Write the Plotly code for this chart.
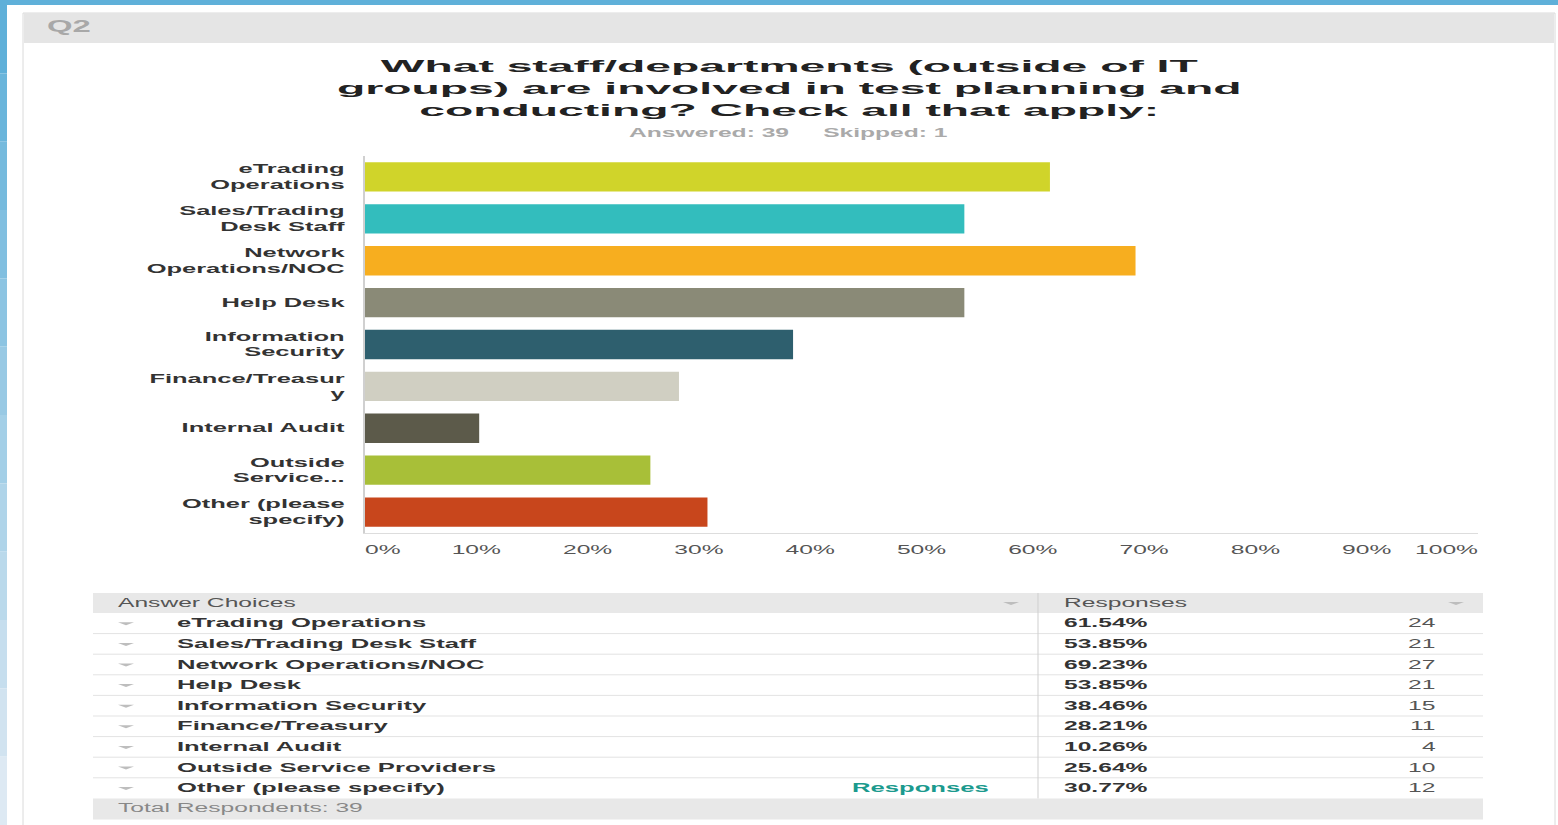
import plotly.graph_objects as go

# ---------------- data ----------------
categories = ["eTrading Operations", "Sales/Trading Desk Staff", "Network Operations/NOC",
              "Help Desk", "Information Security", "Finance/Treasury", "Internal Audit",
              "Outside Service Providers", "Other (please specify)"]
axis_labels = ["eTrading<br>Operations", "Sales/Trading<br>Desk Staff", "Network<br>Operations/NOC",
               "Help Desk", "Information<br>Security", "Finance/Treasur<br>y", "Internal Audit",
               "Outside<br>Service...", "Other (please<br>specify)"]
percents = [61.54, 53.85, 69.23, 53.85, 38.46, 28.21, 10.26, 25.64, 30.77]
counts = [24, 21, 27, 21, 15, 11, 4, 10, 12]
bar_colors = ["#d0d42a", "#33bdbd", "#f7ae1f", "#8a8a77", "#2e5f6e",
              "#d0cfc2", "#5c5a4a", "#a8bf38", "#c8461c"]
x_ticks = [0, 10, 20, 30, 40, 50, 60, 70, 80, 90, 100]
x_tick_labels = [f"{v}%" for v in x_ticks]
title_lines = ["What staff/departments (outside of IT",
               "groups) are involved in test planning and",
               "conducting? Check all that apply:"]
answered, skipped = 39, 1
total_respondents = 39

# ---------------- geometry helpers (pixel -> paper) ----------------
WIDTH, HEIGHT = 1558, 825
L, R, T, B = 365, 1478, 156, 533
PW, PH = R - L, B - T


def px(x):
    return (x - L) / PW


def py(y):
    return (B - y) / PH


FONT = "Liberation Sans, Arial, sans-serif"

fig = go.Figure()
fig.add_trace(go.Bar(
    x=percents, y=categories, orientation="h",
    marker=dict(color=bar_colors, line=dict(width=0)),
    hovertemplate="%{y}: %{x:.2f}%<extra></extra>",
))

shapes = []
annotations = []


def rect(x0, y0, x1, y1, fill, line=None, layer="below"):
    shapes.append(dict(type="rect", xref="paper", yref="paper",
                       x0=px(x0), x1=px(x1), y0=py(y0), y1=py(y1),
                       fillcolor=fill, layer=layer,
                       line=dict(width=1 if line else 0, color=line or fill)))


def hline(x0, x1, y, color, width=1):
    shapes.append(dict(type="line", xref="paper", yref="paper",
                       x0=px(x0), x1=px(x1), y0=py(y), y1=py(y),
                       line=dict(color=color, width=width), layer="below"))


def text(x, y, s, size=12, color="#333", weight="normal", xanchor="left", yanchor="middle"):
    align = {"left": "left", "right": "right", "center": "center"}[xanchor]
    annotations.append(dict(xref="paper", yref="paper", x=px(x), y=py(y), text=s,
                            showarrow=False, xanchor=xanchor, yanchor=yanchor, align=align,
                            borderpad=0,
                            font=dict(family=FONT, size=size, color=color, weight=weight)))


# title first (annotation index 0)
text(789, 88, "<br>".join(title_lines), size=17, color="#222", weight="bold", xanchor="center")
text(709, 133, f"Answered: {answered}", size=12, color="#aaaaaa", weight="bold", xanchor="center")
text(885, 133, f"Skipped: {skipped}", size=12, color="#aaaaaa", weight="bold", xanchor="center")

# page background decorations
rect(0, 0, WIDTH, 5, "#5fb0d9")
bands = 12
for i in range(bands):
    t = i / (bands - 1)
    r = int(0x5f + (0xdd - 0x5f) * t)
    g = int(0xb0 + (0xe9 - 0xb0) * t)
    b_ = int(0xd9 + (0xf3 - 0xd9) * t)
    rect(0, 5 + i * (HEIGHT - 5) / bands, 7, 5 + (i + 1) * (HEIGHT - 5) / bands,
         f"rgb({r},{g},{b_})")
# card
rect(23, 13, 1555, HEIGHT + 5, "#ffffff", line="#dadada")
rect(24, 13, 1554, 43, "#e5e5e5")
text(46, 27, "Q2", size=16, color="#a8a8a8", weight="bold")

# ---------------- table ----------------
TX0, TX1 = 93, 1483
HEAD_TOP, HEAD_BOT = 593, 613
ROW_H = 20.6
COL_DIV = 1038
rect(TX0, HEAD_TOP, TX1, HEAD_BOT, "#e8e8e8")
n = len(categories)
foot_top = HEAD_BOT + ROW_H * n
rect(TX0, foot_top, TX1, foot_top + 21, "#e8e8e8")
for i in range(1, n):
    hline(TX0, TX1, HEAD_BOT + ROW_H * i, "#e3e3e3")
shapes.append(dict(type="line", xref="paper", yref="paper",
                   x0=px(COL_DIV), x1=px(COL_DIV), y0=py(HEAD_TOP), y1=py(foot_top),
                   line=dict(color="#cfcfcf", width=1), layer="below"))


def chevron(xc, yc, color="#bdbdbd"):
    shapes.append(dict(type="path", xref="paper", yref="paper",
                       path=f"M {px(xc-8)},{py(yc-1)} L {px(xc+8)},{py(yc-1)} L {px(xc)},{py(yc+2)} Z",
                       fillcolor=color, line=dict(width=0), layer="above"))


text(117, 603, "Answer Choices", size=12, color="#555")
text(1063, 603, "Responses", size=12, color="#555")
chevron(1011, 603)
chevron(1456, 603)

for i, (cat, pct, cnt) in enumerate(zip(categories, percents, counts)):
    yc = HEAD_BOT + ROW_H * (i + 0.5)
    chevron(126, yc)
    text(176, yc, cat, size=12.5, color="#333", weight="bold")
    text(1063, yc, f"{pct:.2f}%", size=12, color="#333", weight="bold")
    text(1437, yc, str(cnt), size=12, color="#555", xanchor="right")
    if cat.startswith("Other"):
        text(990, yc, "Responses", size=12.5, color="#1b9a8e", weight="bold", xanchor="right")

text(117, foot_top + 10, f"Total Respondents: {total_respondents}", size=12, color="#888")

fig.update_layout(
    width=WIDTH, height=HEIGHT, autosize=False,
    margin=dict(l=L, r=WIDTH - R, t=T, b=HEIGHT - B, pad=0),
    paper_bgcolor="#ffffff", plot_bgcolor="#efefef",
    showlegend=False, bargap=0.3,
    shapes=shapes, annotations=annotations,
    xaxis=dict(range=[0, 100], tickvals=x_ticks, ticktext=x_tick_labels,
               showgrid=True, gridcolor="#ffffff", gridwidth=2, zeroline=False,
               showline=True, linecolor="#dddddd", linewidth=1,
               ticks="outside", ticklen=6, tickcolor="rgba(0,0,0,0)",
               tickfont=dict(family=FONT, size=12, color="#555"), fixedrange=True),
    yaxis=dict(categoryorder="array", categoryarray=categories, autorange="reversed",
               tickvals=categories, ticktext=axis_labels,
               showgrid=False, zeroline=False,
               showline=True, linecolor="#d0d0d0", linewidth=2,
               ticks="outside", ticklen=16, tickcolor="rgba(0,0,0,0)",
               tickfont=dict(family=FONT, size=12, color="#333", weight="bold"),
               fixedrange=True),
)

# The reference renders its text horizontally stretched; reproduce that look.
POST = """
(function(){
document.body.style.margin='0';
document.body.style.overflow='hidden';
var gd=document.getElementById('{plot_id}');
function stretch(){
  gd.querySelectorAll('svg text').forEach(function(t){
    var f=2.05;
    var ann=t.closest('g.annotation');
    if(ann && ann.getAttribute('data-index')==='0') f=2.72;
    if(t.closest('g.ytick')) f=2.12;
    var lines=t.querySelectorAll('tspan.line');
    var els=lines.length?Array.prototype.slice.call(lines):[t];
    els.forEach(function(el){
      if(el.getAttribute('data-ow')) return;
      var w=el.getComputedTextLength();
      if(!w) return;
      el.setAttribute('data-ow', w);
      el.setAttribute('textLength', w*f);
      el.setAttribute('lengthAdjust','spacingAndGlyphs');
    });
  });
  var xt=gd.querySelectorAll('g.xtick text');
  if(xt.length){
    xt[0].setAttribute('text-anchor','start');
    xt[xt.length-1].setAttribute('text-anchor','end');
  }
}
stretch();
if(gd.on) gd.on('plotly_afterplot', stretch);
setTimeout(stretch, 30);
})();
"""

fig.write_html("out.html", post_script=POST, config={"displayModeBar": False})
